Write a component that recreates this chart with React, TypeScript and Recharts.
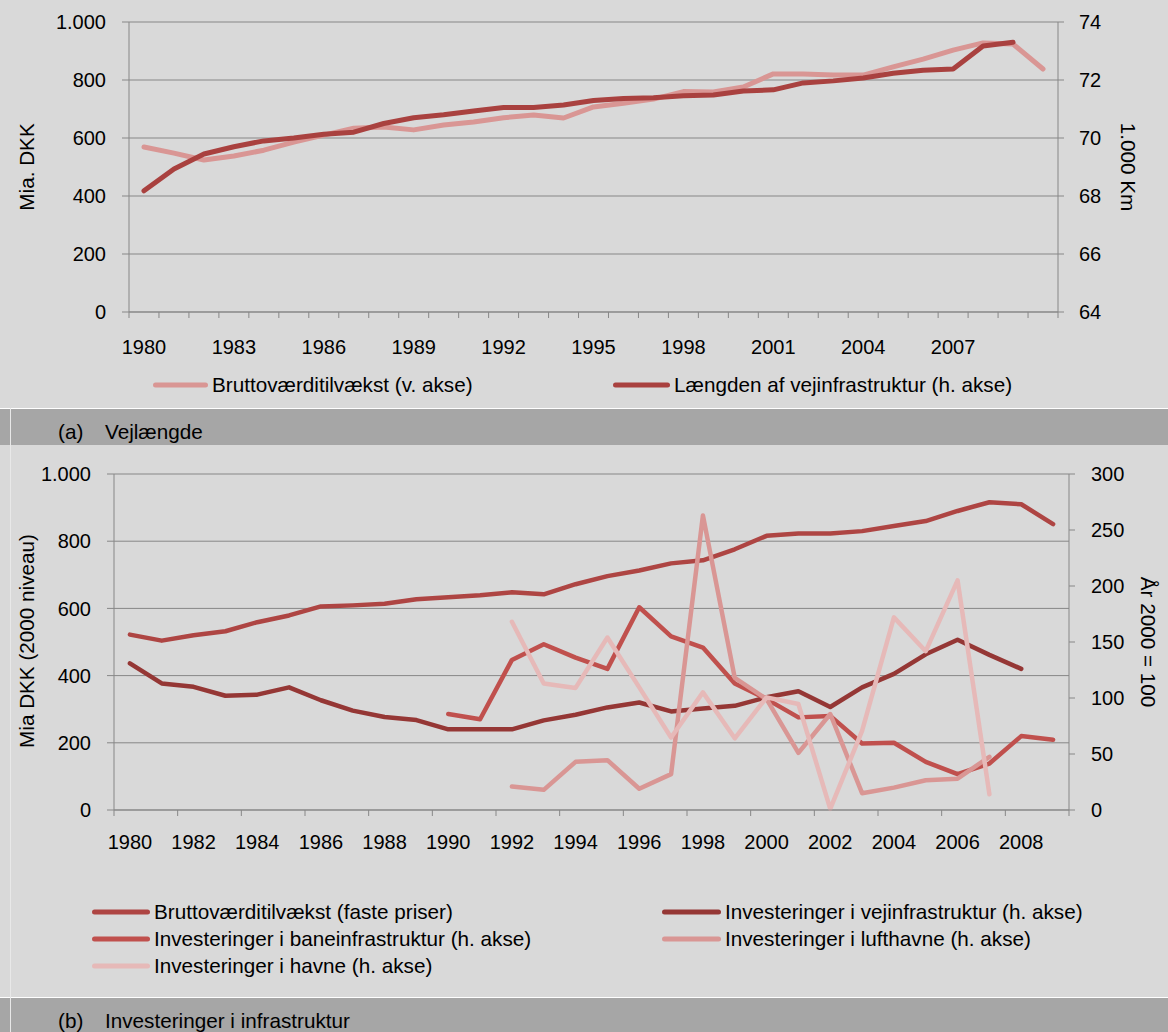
import React from 'react';
import { LineChart, Line, XAxis, YAxis, CartesianGrid } from 'recharts';

// (a) Vejlængde
const yearsA = ['1980', '1981', '1982', '1983', '1984', '1985', '1986', '1987', '1988', '1989', '1990', '1991', '1992', '1993', '1994', '1995', '1996', '1997', '1998', '1999', '2000', '2001', '2002', '2003', '2004', '2005', '2006', '2007', '2008', '2009', '2010'];
const labelsA = ['1980', '1983', '1986', '1989', '1992', '1995', '1998', '2001', '2004', '2007'];
const bvtA = [569, 548, 524, 538, 558, 586, 610, 634, 638, 628, 645, 655, 670, 679, 669, 707, 720, 734, 760, 759, 776, 821, 821, 817, 817, 845, 872, 903, 928, 924, 838];
const roadA = [68.18, 68.93, 69.45, 69.7, 69.9, 70.0, 70.13, 70.2, 70.5, 70.7, 70.8, 70.93, 71.05, 71.05, 71.14, 71.29, 71.36, 71.39, 71.46, 71.48, 71.62, 71.66, 71.9, 71.97, 72.07, 72.23, 72.34, 72.38, 73.17, 73.3, null];
const leftTicksA = [0, 200, 400, 600, 800, 1000];
const rightTicksA = [64, 66, 68, 70, 72, 74];

// (b) Investeringer i infrastruktur
const yearsB = ['1980', '1981', '1982', '1983', '1984', '1985', '1986', '1987', '1988', '1989', '1990', '1991', '1992', '1993', '1994', '1995', '1996', '1997', '1998', '1999', '2000', '2001', '2002', '2003', '2004', '2005', '2006', '2007', '2008', '2009'];
const labelsB = ['1980', '1982', '1984', '1986', '1988', '1990', '1992', '1994', '1996', '1998', '2000', '2002', '2004', '2006', '2008'];
const bvtB = [522, 504, 520, 532, 559, 579, 606, 609, 614, 627, 633, 639, 648, 642, 672, 696, 713, 734, 743, 776, 816, 823, 823, 830, 845, 860, 890, 916, 910, 851];
const vejB = [131, 113, 110, 102, 103, 109.5, 98, 88.7, 83, 80.3, 72, 72, 72, 80, 85, 91.6, 96, 88, 90.7, 93, 100.6, 106, 92, 109.5, 121.5, 139, 152, 138.5, 126, null];
const baneB = [null, null, null, null, null, null, null, null, null, null, 85.7, 81, 134, 148, 136, 126, 181, 155, 145, 113, 99, 82.7, 84, 59.4, 60, 43, 32, 41.5, 66, 62.7];
const luftB = [null, null, null, null, null, null, null, null, null, null, null, null, 21, 18, 43, 44.5, 19, 32, 263, 118, 99, 51, 85.7, 15, 20, 26.6, 28, 47.5, null, null];
const havneB = [null, null, null, null, null, null, null, null, null, null, null, null, 168, 113, 109, 154, 109.5, 64.7, 105, 64, 100.6, 94.6, 1, 70.7, 172, 141.8, 205, 14, null, null];
const leftTicksB = [0, 200, 400, 600, 800, 1000];
const rightTicksB = [0, 50, 100, 150, 200, 250, 300];

const dataA = yearsA.map((year, i) => ({ year, bvt: bvtA[i], road: roadA[i] }));
const dataB = yearsB.map((year, i) => ({
  year,
  bvt: bvtB[i],
  vej: vejB[i],
  bane: baneB[i],
  luft: luftB[i],
  havne: havneB[i],
}));

const BG = '#D9D9D9';
const BAR = '#A6A6A6';
const AXIS = '#878787';
const FONT = '"Liberation Sans", Arial, sans-serif';
const TXT = 20.7;

const C_LIGHT = '#D99694';
const C_DARK = '#A9413F';
const C_BVT = '#AE4543';
const C_VEJ = '#953735';
const C_BANE = '#C0504D';
const C_LUFT = '#D99694';
const C_HAVNE = '#E6B9B8';

const halfA = (1058 - 129) / yearsA.length / 2;
const halfB = (1069 - 114) / yearsB.length / 2;

const fmt = (v: number) =>
  v >= 1000 ? `${Math.floor(v / 1000)}.${String(v % 1000).padStart(3, '0')}` : String(v);

const makeTick = (half: number, every: number, labels: string[], count: number, dy: number) =>
  (props: any) => {
    const { x, y, payload, index } = props;
    return (
      <g>
        {index % every === 0 && <line x1={x - half} x2={x - half} y1={y} y2={y + 6} stroke={AXIS} />}
        {index === count - 1 && count % every === 0 && (
          <line x1={x + half} x2={x + half} y1={y} y2={y + 6} stroke={AXIS} />
        )}
        {labels.includes(payload.value) && (
          <text x={x} y={y + dy} textAnchor="middle" fill="#000" fontSize={20}>
            {payload.value}
          </text>
        )}
      </g>
    );
  };

const tickA = makeTick(halfA, 1, labelsA, yearsA.length, 42);
const tickB = makeTick(halfB, 2, labelsB, yearsB.length, 39);

function LegendItem({ x, y, len, color, text }: { x: number; y: number; len: number; color: string; text: string }) {
  return (
    <div style={{ position: 'absolute', left: x, top: y - 10, height: 20, display: 'flex', alignItems: 'center', whiteSpace: 'nowrap' }}>
      <svg width={len} height={8} style={{ display: 'block' }}>
        <line x1={2.5} x2={len - 2.5} y1={4} y2={4} stroke={color} strokeWidth={5} strokeLinecap="round" />
      </svg>
      <span style={{ marginLeft: 4, fontSize: TXT, lineHeight: '20px', color: '#000' }}>{text}</span>
    </div>
  );
}

function AxisTitle({ cx, cy, angle, text }: { cx: number; cy: number; angle: number; text: string }) {
  return (
    <div
      style={{
        position: 'absolute',
        left: cx,
        top: cy,
        transform: `translate(-50%, -50%) rotate(${angle}deg)`,
        whiteSpace: 'nowrap',
        fontSize: TXT,
        lineHeight: '20px',
        color: '#000',
      }}
    >
      {text}
    </div>
  );
}

function Caption({ top, label, text }: { top: number; label: string; text: string }) {
  return (
    <>
      <div style={{ position: 'absolute', left: 0, top: top - 1, width: 1168, height: 1, background: '#fff' }} />
      <div style={{ position: 'absolute', left: 0, top, width: 1168, height: 36, background: BAR }} />
      <div style={{ position: 'absolute', left: 58, top: top + 13, fontSize: TXT, lineHeight: '20px', color: '#000' }}>{label}</div>
      <div style={{ position: 'absolute', left: 105, top: top + 13, fontSize: TXT, lineHeight: '20px', color: '#000' }}>{text}</div>
    </>
  );
}

export default function App() {
  const lineProps = {
    type: 'linear' as const,
    dot: false,
    activeDot: false,
    isAnimationActive: false,
    strokeLinejoin: 'round' as const,
    strokeLinecap: 'round' as const,
  };
  return (
    <div
      style={{
        position: 'absolute',
        left: 0,
        top: 0,
        width: 1168,
        height: 1032,
        background: BG,
        fontFamily: FONT,
        overflow: 'hidden',
      }}
    >
      {/* (a) */}
      <div style={{ position: 'absolute', left: 0, top: 0 }}>
        <LineChart width={1168} height={408} data={dataA} margin={{ top: 22, right: 0, bottom: 56, left: 0 }}>
          <CartesianGrid yAxisId="l" vertical={false} stroke={AXIS} />
          <XAxis
            dataKey="year"
            interval={0}
            height={40}
            padding={{ left: halfA, right: halfA }}
            axisLine={{ stroke: AXIS }}
            tickLine={false}
            tickSize={0}
            tickMargin={0}
            tick={tickA}
          />
          <YAxis
            yAxisId="l"
            width={129}
            domain={[0, 1000]}
            ticks={leftTicksA}
            interval={0}
            tickFormatter={fmt}
            axisLine={{ stroke: AXIS }}
            tickLine={{ stroke: AXIS }}
            tickSize={7}
            tickMargin={16}
            tick={{ fill: '#000', fontSize: 20 }}
          />
          <YAxis
            yAxisId="r"
            orientation="right"
            width={110}
            domain={[64, 74]}
            ticks={rightTicksA}
            interval={0}
            axisLine={{ stroke: AXIS }}
            tickLine={{ stroke: AXIS }}
            tickSize={6}
            tickMargin={15}
            tick={{ fill: '#000', fontSize: 20 }}
          />
          <Line {...lineProps} yAxisId="l" dataKey="bvt" stroke={C_LIGHT} strokeWidth={5} />
          <Line {...lineProps} yAxisId="r" dataKey="road" stroke={C_DARK} strokeWidth={5} />
        </LineChart>
      </div>
      <AxisTitle cx={27} cy={167} angle={-90} text="Mia. DKK" />
      <AxisTitle cx={1128} cy={167} angle={90} text="1.000 Km" />
      <LegendItem x={153} y={385} len={55} color={C_LIGHT} text="Bruttoværditilvækst (v. akse)" />
      <LegendItem x={613} y={385} len={57} color={C_DARK} text="Længden af vejinfrastruktur (h. akse)" />

      <Caption top={409} label="(a)" text="Vejlængde" />

      {/* (b) */}
      <div style={{ position: 'absolute', left: 0, top: 445 }}>
        <LineChart width={1168} height={552} data={dataB} margin={{ top: 29, right: 0, bottom: 147, left: 0 }}>
          <CartesianGrid yAxisId="l" vertical={false} stroke={AXIS} />
          <XAxis
            dataKey="year"
            interval={0}
            height={40}
            padding={{ left: halfB, right: halfB }}
            axisLine={{ stroke: AXIS }}
            tickLine={false}
            tickSize={0}
            tickMargin={0}
            tick={tickB}
          />
          <YAxis
            yAxisId="l"
            width={114}
            domain={[0, 1000]}
            ticks={leftTicksB}
            interval={0}
            tickFormatter={fmt}
            axisLine={{ stroke: AXIS }}
            tickLine={{ stroke: AXIS }}
            tickSize={7}
            tickMargin={16}
            tick={{ fill: '#000', fontSize: 20 }}
          />
          <YAxis
            yAxisId="r"
            orientation="right"
            width={99}
            domain={[0, 300]}
            ticks={rightTicksB}
            interval={0}
            axisLine={{ stroke: AXIS }}
            tickLine={{ stroke: AXIS }}
            tickSize={6}
            tickMargin={16}
            tick={{ fill: '#000', fontSize: 20 }}
          />
          <Line {...lineProps} yAxisId="l" dataKey="bvt" stroke={C_BVT} strokeWidth={4.5} />
          <Line {...lineProps} yAxisId="r" dataKey="vej" stroke={C_VEJ} strokeWidth={4.5} />
          <Line {...lineProps} yAxisId="r" dataKey="bane" stroke={C_BANE} strokeWidth={4.5} />
          <Line {...lineProps} yAxisId="r" dataKey="luft" stroke={C_LUFT} strokeWidth={4.5} />
          <Line {...lineProps} yAxisId="r" dataKey="havne" stroke={C_HAVNE} strokeWidth={4.5} />
        </LineChart>
      </div>
      <AxisTitle cx={27} cy={641} angle={-90} text="Mia DKK (2000 niveau)" />
      <AxisTitle cx={1148} cy={642} angle={90} text="År 2000 = 100" />
      <LegendItem x={92} y={912} len={58} color={C_BVT} text="Bruttoværditilvækst (faste priser)" />
      <LegendItem x={662} y={912} len={59} color={C_VEJ} text="Investeringer i vejinfrastruktur (h. akse)" />
      <LegendItem x={92} y={939} len={58} color={C_BANE} text="Investeringer i baneinfrastruktur (h. akse)" />
      <LegendItem x={662} y={939} len={59} color={C_LUFT} text="Investeringer i lufthavne (h. akse)" />
      <LegendItem x={92} y={966} len={58} color={C_HAVNE} text="Investeringer i havne (h. akse)" />

      <Caption top={998} label="(b)" text="Investeringer i infrastruktur" />
      <div style={{ position: 'absolute', left: 10, top: 408, width: 1, height: 624, background: '#E8E8E8' }} />
    </div>
  );
}
